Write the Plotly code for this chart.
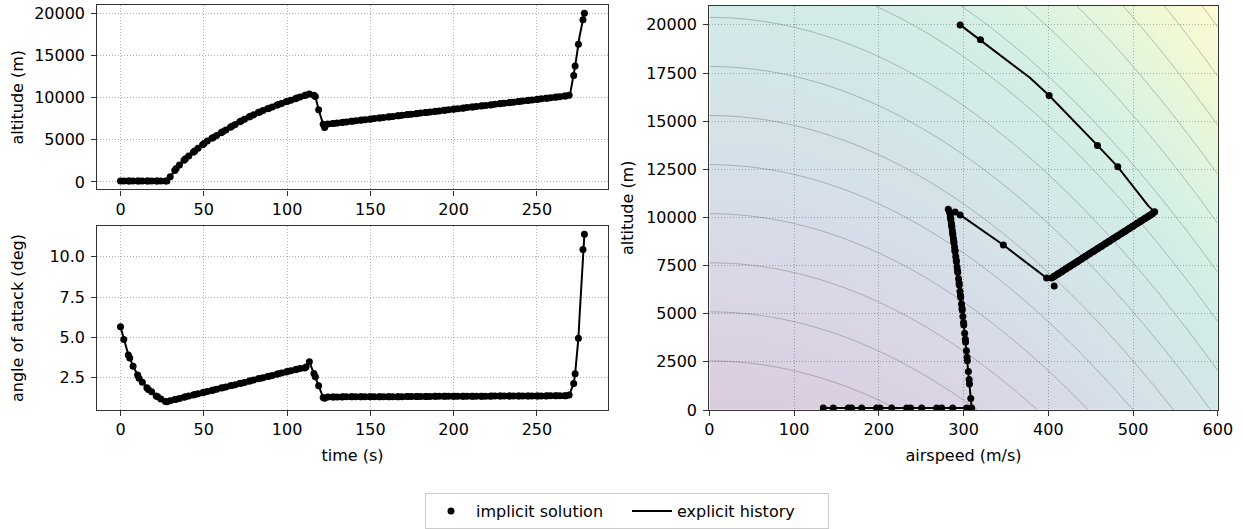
import numpy as np
import plotly.graph_objects as go

# ---------------- implicit solution (collocation nodes) ----------------
time_s = [
    0.00, 1.98, 4.71, 5.57, 7.55, 10.28, 11.14, 13.12, 15.85, 16.71, 18.69, 21.42, 22.28, 24.26, 26.99,
    27.85, 29.83, 32.56, 33.42, 35.40, 38.13, 38.99, 40.97, 43.70, 44.56, 46.54, 49.27, 50.13, 52.11, 54.84,
    55.70, 57.68, 60.41, 61.27, 63.25, 65.98, 66.84, 68.82, 71.55, 72.41, 74.39, 77.12, 77.98, 79.96, 82.69,
    83.55, 85.53, 88.26, 89.12, 91.10, 93.83, 94.69, 96.67, 99.40, 100.26, 102.24, 104.97, 105.83, 107.81, 110.54,
    111.40, 113.38, 116.11, 116.97, 118.95, 121.68, 122.54,
    124.52, 127.25, 128.11, 130.09, 132.82, 133.68, 135.66, 138.39, 139.25, 141.23, 143.96, 144.82, 146.80, 149.53,
    150.39, 152.37, 155.10, 155.96, 157.94, 160.67, 161.53, 163.51, 166.24, 167.10, 169.08, 171.81, 172.67, 174.65,
    177.38, 178.24, 180.22, 182.95, 183.81, 185.79, 188.52, 189.38, 191.36, 194.09, 194.95, 196.93, 199.66, 200.52,
    202.50, 205.23, 206.09, 208.07, 210.80, 211.66, 213.64, 216.37, 217.23, 219.21, 221.94, 222.80, 224.78, 227.51,
    228.37, 230.35, 233.08, 233.94, 235.92, 238.65, 239.51, 241.49, 244.22, 245.08, 247.06, 249.79, 250.65, 252.63,
    255.36, 256.22, 258.20, 260.93, 261.79, 263.77, 266.50, 267.36,
    269.34, 272.07, 272.93, 274.91, 277.64, 278.50,
]
altitude_m = [
    100, 100, 100, 100, 100, 100, 100, 100, 100, 100, 100, 100, 100, 100, 100,
    100, 600, 1350, 1580, 2000, 2560, 2740, 3080, 3530, 3670, 3990, 4420, 4550, 4860, 5180,
    5280, 5510, 5840, 5940, 6170, 6490, 6590, 6820, 7140, 7230, 7430, 7700, 7780, 7970, 8230,
    8300, 8460, 8680, 8750, 8900, 9100, 9170, 9310, 9510, 9570, 9700, 9880, 9940, 10070, 10240,
    10300, 10420, 10280, 10130, 8570, 6850, 6440,
    6860, 6924, 6944, 6990, 7054, 7074, 7120, 7184, 7204, 7251, 7315, 7335, 7381, 7445,
    7465, 7511, 7575, 7595, 7641, 7705, 7725, 7772, 7835, 7856, 7902, 7966, 7986, 8032,
    8096, 8116, 8162, 8226, 8246, 8292, 8356, 8376, 8423, 8487, 8507, 8553, 8617, 8637,
    8683, 8747, 8767, 8813, 8877, 8897, 8944, 9007, 9028, 9074, 9138, 9158, 9204, 9268,
    9288, 9334, 9398, 9418, 9464, 9528, 9548, 9595, 9659, 9679, 9725, 9789, 9809, 9855,
    9919, 9939, 9985, 10049, 10069, 10116, 10180, 10200,
    10290, 12630, 13740, 16330, 19230, 20000,
]
airspeed_ms = [
    134.5, 146.3, 164.0, 168.0, 179.8, 197.5, 201.4, 215.2, 232.9, 237.6, 250.6, 268.3, 274.2, 287.2, 303.7,
    309.6, 308.5, 307.0, 306.6, 305.7, 304.5, 304.1, 303.4, 302.4, 302.1, 301.3, 300.3, 300.0, 299.2, 298.4,
    298.2, 297.6, 296.7, 296.4, 295.8, 295.0, 294.7, 294.1, 293.2, 292.9, 292.4, 291.6, 291.4, 290.8, 290.0,
    289.8, 289.4, 288.7, 288.5, 288.0, 287.4, 287.2, 286.8, 286.2, 286.0, 285.6, 285.0, 284.8, 284.4, 283.8,
    283.5, 282.0, 290.0, 296.0, 347.0, 398.0, 407.0,
    404.0, 406.3, 407.0, 408.6, 410.9, 411.6, 413.3, 415.6, 416.3, 417.9, 420.2, 420.9, 422.6, 424.8,
    425.6, 427.2, 429.5, 430.2, 431.8, 434.1, 434.8, 436.5, 438.8, 439.5, 441.1, 443.4, 444.1, 445.8,
    448.0, 448.8, 450.4, 452.7, 453.4, 455.0, 457.3, 458.0, 459.7, 462.0, 462.7, 464.3, 466.6, 467.3,
    469.0, 471.2, 472.0, 473.6, 475.9, 476.6, 478.2, 480.5, 481.2, 482.9, 485.2, 485.9, 487.5, 489.8,
    490.5, 492.2, 494.4, 495.2, 496.8, 499.1, 499.8, 501.4, 503.7, 504.4, 506.1, 508.4, 509.1, 510.7,
    513.0, 513.7, 515.4, 517.6, 518.4, 520.0, 522.3, 523.0,
    525.5, 482.0, 458.0, 401.0, 320.0, 296.0,
]
alpha_deg = [
    5.65, 4.85, 3.90, 3.70, 3.20, 2.65, 2.45, 2.20, 1.85, 1.75, 1.60, 1.35, 1.30, 1.15, 1.00,
    0.98, 1.05, 1.12, 1.14, 1.19, 1.26, 1.29, 1.34, 1.41, 1.43, 1.48, 1.55, 1.57, 1.62, 1.69,
    1.71, 1.76, 1.84, 1.86, 1.91, 1.98, 2.00, 2.05, 2.12, 2.14, 2.19, 2.26, 2.29, 2.34, 2.41,
    2.43, 2.48, 2.55, 2.57, 2.62, 2.69, 2.72, 2.77, 2.84, 2.86, 2.91, 2.98, 3.00, 3.05, 3.08,
    3.15, 3.47, 2.75, 2.54, 1.98, 1.25, 1.20,
    1.28, 1.28, 1.28, 1.28, 1.28, 1.29, 1.29, 1.29, 1.29, 1.29, 1.29, 1.29, 1.29, 1.29,
    1.29, 1.30, 1.30, 1.30, 1.30, 1.30, 1.30, 1.30, 1.30, 1.30, 1.30, 1.31, 1.31, 1.31,
    1.31, 1.31, 1.31, 1.31, 1.31, 1.31, 1.32, 1.32, 1.32, 1.32, 1.32, 1.32, 1.32, 1.32,
    1.32, 1.33, 1.33, 1.33, 1.33, 1.33, 1.33, 1.33, 1.33, 1.33, 1.33, 1.34, 1.34, 1.34,
    1.34, 1.34, 1.34, 1.34, 1.34, 1.34, 1.35, 1.35, 1.35, 1.35, 1.35, 1.35, 1.35, 1.35,
    1.35, 1.36, 1.36, 1.36, 1.36, 1.36, 1.36, 1.36,
    1.40, 2.12, 2.72, 4.94, 10.45, 11.40,
]

# ---------------- explicit history (simulated) ----------------
time_exp = [
    0.00, 1.98, 4.71, 5.57, 7.55, 10.28, 11.14, 13.12, 15.85, 16.71, 18.69, 21.42, 22.28, 24.26, 26.99,
    27.85, 29.83, 32.56, 35.40, 38.99, 43.70, 49.27, 55.70, 61.27, 66.84, 72.41, 77.98, 83.55, 89.12,
    94.69, 100.26, 105.83, 110.54, 113.38, 116.11, 116.97, 118.95, 121.68, 124.52, 150.39, 178.24,
    206.09, 233.94, 261.79, 267.36, 269.34, 270.10, 272.07, 272.93, 274.91, 275.60, 277.64, 278.50,
]
altitude_exp = [
    100, 100, 100, 100, 100, 100, 100, 100, 100, 100, 100, 100, 100, 100, 100,
    100, 600, 1350, 2000, 2740, 3530, 4420, 5280, 5940, 6590, 7230, 7780, 8300, 8750,
    9170, 9570, 9940, 10240, 10420, 10280, 10130, 8570, 6850, 6860, 7465, 8116,
    8767, 9418, 10069, 10200, 10290, 10600, 12630, 13740, 16330, 17265, 19230, 20000,
]
airspeed_exp = [
    134.5, 146.3, 164.0, 168.0, 179.8, 197.5, 201.4, 215.2, 232.9, 237.6, 250.6, 268.3, 274.2, 287.2, 303.7,
    309.6, 308.5, 307.0, 305.7, 304.1, 302.4, 300.3, 298.2, 296.4, 294.7, 292.9, 291.4, 289.8, 288.5,
    287.2, 286.0, 284.8, 283.8, 282.0, 290.0, 296.0, 347.0, 398.0, 404.0, 425.6, 448.8,
    472.0, 495.2, 518.4, 523.0, 525.5, 518.0, 482.0, 458.0, 401.0, 378.0, 320.0, 296.0,
]
alpha_exp = [
    5.65, 4.85, 3.90, 3.70, 3.20, 2.65, 2.45, 2.20, 1.85, 1.75, 1.60, 1.35, 1.30, 1.15, 1.00,
    0.98, 1.05, 1.12, 1.19, 1.29, 1.41, 1.55, 1.71, 1.86, 2.00, 2.14, 2.29, 2.43, 2.57,
    2.72, 2.86, 3.00, 3.08, 3.47, 2.75, 2.54, 1.98, 1.25, 1.28, 1.29, 1.31,
    1.33, 1.34, 1.36, 1.36, 1.40, 1.60, 2.12, 2.72, 4.94, 6.30, 10.45, 11.40,
]

time_ticks = [0, 50, 100, 150, 200, 250]
alt_ticks = [0, 5000, 10000, 15000, 20000]
alpha_ticks = [2.5, 5.0, 7.5, 10.0]
alpha_tick_text = ["2.5", "5.0", "7.5", "10.0"]
speed_ticks = [0, 100, 200, 300, 400, 500, 600]
alt_ticks_right = [0, 2500, 5000, 7500, 10000, 12500, 15000, 17500, 20000]

# specific-energy field for the background of the right panel
g0 = 9.81
v_grid = np.linspace(0, 600, 241)
h_grid = np.linspace(0, 21000, 241)
V, H = np.meshgrid(v_grid, h_grid)
energy = 0.5 * V ** 2 + g0 * H

FONT = "DejaVu Sans"
FS = 16
W, Hh = 1243, 529

fig = go.Figure()

# right panel background
fig.add_trace(go.Heatmap(x=v_grid, y=h_grid, z=energy, colorscale="Viridis", opacity=0.2,
                         zsmooth="best", showscale=False, hoverinfo="skip", showlegend=False,
                         xaxis="x3", yaxis="y3"))
fig.add_trace(go.Contour(x=v_grid, y=h_grid, z=energy, showscale=False, hoverinfo="skip",
                         showlegend=False,
                         contours=dict(start=25000, end=375000, size=25000, coloring="none"),
                         line=dict(color="rgba(80,80,80,0.38)", width=0.9, smoothing=1),
                         xaxis="x3", yaxis="y3"))

line_style = dict(color="black", width=2)
mk_style = dict(color="black", size=7)

panels = [
    ("x", "y", time_exp, altitude_exp, time_s, altitude_m, True),
    ("x2", "y2", time_exp, alpha_exp, time_s, alpha_deg, False),
    ("x3", "y3", airspeed_exp, altitude_exp, airspeed_ms, altitude_m, False),
]
for xa, ya, xe, ye, xi, yi, show in panels:
    fig.add_trace(go.Scatter(x=xe, y=ye, mode="lines", line=line_style, name="explicit history",
                             legendgroup="exp", showlegend=show, legendrank=2,
                             xaxis=xa, yaxis=ya))
    fig.add_trace(go.Scatter(x=xi, y=yi, mode="markers", marker=mk_style, name="implicit solution",
                             legendgroup="imp", showlegend=show, legendrank=1,
                             xaxis=xa, yaxis=ya))


def px_x(a, b):
    return [a / W, b / W]


def px_y(top, bottom):
    return [1 - bottom / Hh, 1 - top / Hh]


axis_common = dict(showline=True, mirror=True, linecolor="#333333", linewidth=1.1,
                   ticks="outside", ticklen=5, tickwidth=1.1, tickcolor="#333333",
                   showgrid=True, gridcolor="#b0b0b0", griddash="1px,2px", gridwidth=0.9,
                   zeroline=False, tickfont=dict(family=FONT, size=FS, color="black"),
                   automargin=False)

tmin, tmax = time_s[0], time_s[-1]
tpad = 0.05 * (tmax - tmin)
hmin, hmax = min(altitude_m), max(altitude_m)
hpad = 0.05 * (hmax - hmin)
amin, amax = min(alpha_deg), max(alpha_deg)
apad = 0.05 * (amax - amin)

fig.update_layout(
    width=W, height=Hh,
    margin=dict(l=0, r=0, t=0, b=0),
    paper_bgcolor="white", plot_bgcolor="white",
    font=dict(family=FONT, size=FS, color="black"),
    showlegend=True,
    legend=dict(orientation="h", x=425 / W, xanchor="left", y=1 - 500 / Hh,
                yanchor="top", bordercolor="#cccccc", borderwidth=1, bgcolor="white",
                itemwidth=40, entrywidth=146,
                font=dict(family=FONT, size=FS, color="black"), traceorder="normal"),
    xaxis=dict(axis_common, domain=px_x(97.3, 607.6), anchor="y", range=[tmin - tpad, tmax + tpad],
               tickvals=time_ticks),
    yaxis=dict(axis_common, domain=px_y(5, 192), anchor="x", range=[hmin - hpad, hmax + hpad],
               tickvals=alt_ticks, tickformat="d", ticklabelstandoff=3,
               title=dict(text="altitude (m)", font=dict(family=FONT, size=FS), standoff=6)),
    xaxis2=dict(axis_common, domain=px_x(97.3, 607.6), anchor="y2", range=[tmin - tpad, tmax + tpad],
                tickvals=time_ticks,
                title=dict(text="time (s)", font=dict(family=FONT, size=FS), standoff=11)),
    yaxis2=dict(axis_common, domain=px_y(229, 415.7), anchor="x2", range=[amin - apad, amax + apad],
                tickvals=alpha_ticks, ticktext=alpha_tick_text, ticklabelstandoff=3,
                title=dict(text="angle of attack (deg)", font=dict(family=FONT, size=FS), standoff=21)),
    xaxis3=dict(axis_common, domain=px_x(709.3, 1217.8), anchor="y3", range=[0, 600],
                tickvals=speed_ticks,
                title=dict(text="airspeed (m/s)", font=dict(family=FONT, size=FS), standoff=11)),
    yaxis3=dict(axis_common, domain=px_y(5.7, 415.5), anchor="x3", range=[0, 21000],
                tickvals=alt_ticks_right, tickformat="d", ticklabelstandoff=3,
                title=dict(text="altitude (m)", font=dict(family=FONT, size=FS), standoff=8)),
)

fig.write_html("out.html", config={"displayModeBar": False},
               post_script="document.body.style.margin='0px';")
